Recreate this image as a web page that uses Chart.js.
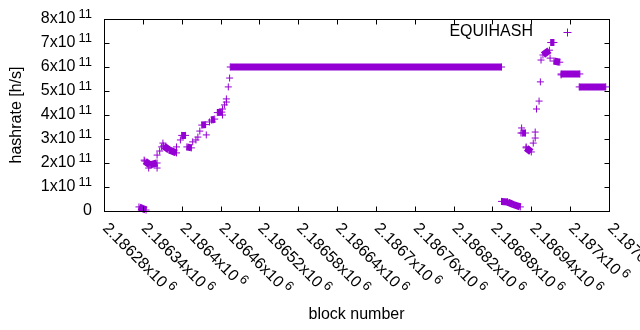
<!DOCTYPE html>
<html>
<head>
<meta charset="utf-8">
<script src="https://cdn.jsdelivr.net/npm/chart.js@4/dist/chart.umd.min.js"></script>
<style>
  body { margin: 0; background: #fff; }
  #wrap { width: 640px; height: 330px; }
</style>
</head>
<body>
<div id="wrap"><canvas id="myChart" width="640" height="330"></canvas></div>
<script>
const seriesName = "EQUIHASH";

const xTicks = [2186280, 2186340, 2186400, 2186460, 2186520, 2186580, 2186640,
  2186700, 2186760, 2186820, 2186880, 2186940, 2187000, 2187060];
const xTickLabels = ["2.18628x10", "2.18634x10", "2.1864x10", "2.18646x10", "2.18652x10",
  "2.18658x10", "2.18664x10", "2.1867x10", "2.18676x10", "2.18682x10", "2.18688x10",
  "2.18694x10", "2.187x10", "2.18706x10"];
const xTickPower = "6";

const yTicks = [0, 1e11, 2e11, 3e11, 4e11, 5e11, 6e11, 7e11, 8e11];
const yTickLabels = ["0", "1x10", "2x10", "3x10", "4x10", "5x10", "6x10", "7x10", "8x10"];
const yTickPower = ["", "11", "11", "11", "11", "11", "11", "11", "11"];

// single blocks
const blocks = [2186342, 2186349, 2186362, 2186362, 2186366, 2186369, 2186371, 2186392,
  2186398, 2186417, 2186422, 2186425, 2186428, 2186438, 2186443, 2186463, 2186463,
  2186466, 2186469, 2186469, 2186472, 2186474,
  2186925, 2186924, 2186932, 2186943, 2186946, 2186946, 2186948, 2186952, 2186954,
  2186955, 2186969, 2186986];
const rates = [2.12e11, 1.79e11, 1.79e11, 2.33e11, 2.50e11, 2.67e11, 2.83e11, 2.67e11,
  2.96e11, 2.88e11, 2.96e11, 3.08e11, 3.33e11, 3.17e11, 3.71e11, 4.00e11, 4.25e11,
  4.42e11, 4.67e11, 4.54e11, 5.17e11, 5.54e11,
  3.46e11, 3.25e11, 2.67e11, 2.83e11, 3.04e11, 3.29e11, 4.25e11, 4.58e11, 5.38e11,
  6.29e11, 6.37e11, 5.67e11];

// runs of consecutive blocks, dense enough to merge into a bar
const runFrom = [2186334, 2186343, 2186351, 2186372, 2186381, 2186400, 2186408, 2186431,
  2186446, 2186455, 2186475, 2186894, 2186903, 2186912, 2186926, 2186932, 2186958,
  2186970, 2186975, 2186986, 2187014];
const runTo = [2186345, 2186351, 2186362, 2186381, 2186392, 2186406, 2186415, 2186437,
  2186451, 2186462, 2186894, 2186903, 2186912, 2186923, 2186931, 2186940, 2186968,
  2186975, 2186984, 2187015, 2187055];
const runRateFrom = [0.17e11, 2.08e11, 1.92e11, 2.71e11, 2.54e11, 3.15e11, 2.67e11, 3.58e11,
  3.79e11, 4.10e11, 6.00e11, 0.40e11, 0.375e11, 0.27e11, 3.25e11, 2.63e11, 6.50e11,
  7.02e11, 6.25e11, 5.71e11, 5.17e11];
const runRateTo = [0.04e11, 1.92e11, 2.00e11, 2.54e11, 2.42e11, 3.15e11, 2.63e11, 3.60e11,
  3.83e11, 4.12e11, 6.00e11, 0.375e11, 0.27e11, 0.17e11, 3.25e11, 2.46e11, 6.70e11,
  7.02e11, 6.20e11, 5.71e11, 5.17e11];

const purple = "#9400d3";
const font = "Liberation Sans, Arial, sans-serif";
const baseSize = 16;
const powerSize = 13;

function buildPoints() {
  return blocks.map((b, i) => ({ x: b, y: rates[i] }));
}

function buildRuns() {
  const out = [];
  runFrom.forEach((b, i) => {
    out.push({ x: b, y: runRateFrom[i] });
    out.push({ x: runTo[i], y: runRateTo[i] });
    out.push({ x: runTo[i], y: null });
  });
  return out;
}

function labelWidth(ctx, base, power) {
  ctx.font = baseSize + "px " + font;
  let w = ctx.measureText(base).width;
  if (power) {
    ctx.font = powerSize + "px " + font;
    w += 3 + ctx.measureText(power).width;
  }
  return w;
}

function drawLabel(ctx, base, power) {
  ctx.font = baseSize + "px " + font;
  ctx.fillText(base, 0, 0);
  if (!power) return;
  const w = ctx.measureText(base).width;
  ctx.font = powerSize + "px " + font;
  ctx.fillText(power, w + 3, -5);
}

const gnuplotFrame = {
  id: "gnuplotFrame",
  afterDraw(chart) {
    const ctx = chart.ctx;
    const a = chart.chartArea;
    const xs = chart.scales.x;
    const ys = chart.scales.y;
    const L = Math.round(a.left) + 0.5, R = Math.round(a.right) + 0.5;
    const T = Math.round(a.top) + 0.5, B = Math.round(a.bottom) + 0.5;
    const tic = 5;

    ctx.save();
    ctx.strokeStyle = "#000";
    ctx.lineWidth = 1;
    ctx.strokeRect(L, T, R - L, B - T);

    ctx.beginPath();
    yTicks.forEach((v) => {
      const py = Math.round(ys.getPixelForValue(v)) + 0.5;
      ctx.moveTo(L, py); ctx.lineTo(L + tic, py);
      ctx.moveTo(R, py); ctx.lineTo(R - tic, py);
    });
    xTicks.forEach((v) => {
      const px = Math.round(xs.getPixelForValue(v)) + 0.5;
      ctx.moveTo(px, B); ctx.lineTo(px, B - tic);
      ctx.moveTo(px, T); ctx.lineTo(px, T + tic);
    });
    ctx.stroke();

    ctx.fillStyle = "#000";
    ctx.textBaseline = "middle";
    ctx.textAlign = "left";

    yTicks.forEach((v, i) => {
      const py = ys.getPixelForValue(v);
      const w = labelWidth(ctx, yTickLabels[i], yTickPower[i]);
      ctx.save();
      ctx.translate(92 - w, py);
      drawLabel(ctx, yTickLabels[i], yTickPower[i]);
      ctx.restore();
    });

    xTicks.forEach((v, i) => {
      const px = xs.getPixelForValue(v);
      ctx.save();
      ctx.translate(px + 1, a.bottom + 15);
      ctx.rotate(Math.PI / 4);
      drawLabel(ctx, xTickLabels[i], xTickPower);
      ctx.restore();
    });

    ctx.font = baseSize + "px " + font;
    ctx.textAlign = "center";
    ctx.fillText("block number", (a.left + a.right) / 2, 315);
    ctx.save();
    ctx.translate(17, (a.top + a.bottom) / 2);
    ctx.rotate(-Math.PI / 2);
    ctx.fillText("hashrate [h/s]", 0, 0);
    ctx.restore();

    // key
    ctx.textAlign = "right";
    ctx.fillText(seriesName, 533, 32);
    ctx.strokeStyle = purple;
    ctx.beginPath();
    ctx.moveTo(563.5, 32.5); ctx.lineTo(571.5, 32.5);
    ctx.moveTo(567.5, 28.5); ctx.lineTo(567.5, 36.5);
    ctx.stroke();
    ctx.restore();
  }
};

function createChart() {
  const ctx = document.getElementById("myChart");
  new Chart(ctx, {
    type: "scatter",
    data: {
      datasets: [
        {
          label: seriesName,
          data: buildPoints(),
          showLine: false,
          pointStyle: "cross",
          pointRadius: 3.5,
          borderColor: purple,
          backgroundColor: purple,
          borderWidth: 1,
          clip: 10
        },
        {
          label: seriesName + " runs",
          data: buildRuns(),
          showLine: true,
          spanGaps: false,
          borderColor: purple,
          backgroundColor: purple,
          borderWidth: 7,
          borderCapStyle: "butt",
          pointStyle: "cross",
          pointRadius: 3.5,
          pointBorderWidth: 1,
          clip: 10
        }
      ]
    },
    options: {
      responsive: false,
      animation: false,
      devicePixelRatio: 1,
      events: [],
      layout: { padding: { left: 104, top: 19, right: 31, bottom: 119 } },
      plugins: { legend: { display: false }, tooltip: { enabled: false } },
      scales: {
        x: { type: "linear", min: 2186280, max: 2187060, display: false },
        y: { type: "linear", min: 0, max: 8e11, display: false }
      }
    },
    plugins: [gnuplotFrame]
  });
}

createChart();
</script>
</body>
</html>
